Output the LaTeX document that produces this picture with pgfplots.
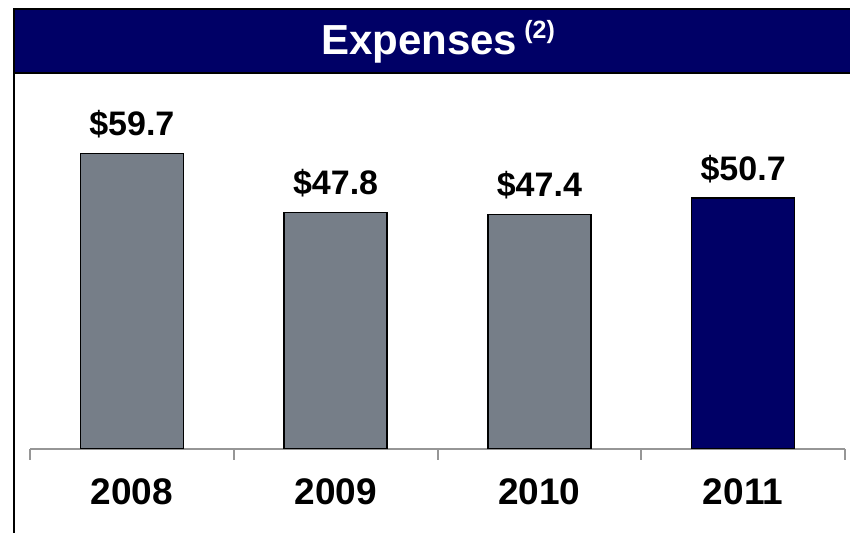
\documentclass[border=0pt]{standalone}
\usepackage{fontspec}
\setmainfont{Liberation Sans}
\usepackage{pgfplots}
\pgfplotsset{compat=1.18}
\definecolor{navy}{RGB}{0,0,102}
\definecolor{bargray}{RGB}{118,126,136}
\definecolor{axgray}{RGB}{150,150,150}
\begin{document}
\begin{tikzpicture}[x=1pt,y=1pt]
\path[use as bounding box] (0,0) rectangle (425,266.5);
% banner
\fill[navy] (6.5,230) rectangle (425,262);
\draw[black,line width=0.8pt] (6.5,262) -- (425,262);
\draw[black,line width=0.8pt] (6.5,230) -- (425,230);
\draw[black,line width=1pt] (7,0) -- (7,262);
\node[white,font=\bfseries\fontsize{21}{24}\selectfont] at (219,245.5)
  {Expenses\,\raisebox{0.38em}{\fontsize{12.5}{14}\selectfont (2)}};
\begin{axis}[
    at={(15pt,42pt)}, anchor=south west,
    scale only axis,
    width=407.5pt, height=173.25pt,
    xmin=-0.5, xmax=3.5, ymin=0, ymax=70,
    axis x line*=bottom, axis y line=none,
    x axis line style={axgray,line width=1pt},
    ybar, bar width=51.5pt, bar shift=0pt,
    xtick={0,1,2,3},
    xticklabels={2008,2009,2010,2011},
    major tick length=0pt,
    minor xtick={-0.5,0.5,1.5,2.5,3.5},
    minor tick length=5.5pt,
    tick align=outside,
    minor tick style={axgray,line width=1pt},
    xticklabel style={font=\bfseries\fontsize{18.5}{20}\selectfont, yshift=-11.5pt},
    point meta=explicit symbolic,
    nodes near coords={\$\pgfplotspointmeta},
    every node near coord/.append style={font=\bfseries\fontsize{17}{18}\selectfont, black, yshift=4pt},
]
\addplot[fill=bargray, draw=black, line width=0.8pt] coordinates {
    (0,59.7) [59.7]
    (1,47.8) [47.8]
    (2,47.4) [47.4]
};
\addplot[fill=navy, draw=black, line width=0.8pt] coordinates {
    (3,50.7) [50.7]
};
\end{axis}
\end{tikzpicture}
\end{document}
